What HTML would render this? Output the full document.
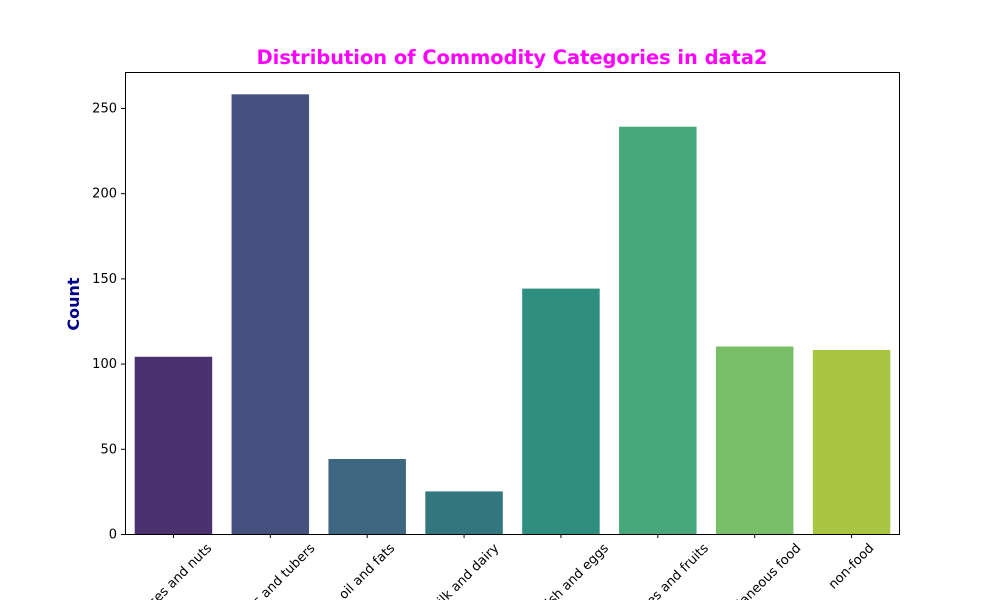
<!DOCTYPE html>
<html><head><meta charset="utf-8"><style>
html,body{margin:0;background:#fff;overflow:hidden;width:1000px;height:600px}
svg{font-family:"DejaVu Sans","Liberation Sans",sans-serif;display:block;overflow:hidden}
</style></head><body>
<svg id="chart" width="1000" height="600" viewBox="0 0 1000 600">
<text x="512" y="64" text-anchor="middle" font-size="19.4" font-weight="bold" fill="#ff00ff">Distribution of Commodity Categories in data2</text>
<text transform="translate(79,304) rotate(-90)" text-anchor="middle" font-size="16" font-weight="bold" fill="#00008b">Count</text>
<g id="bars"></g><g id="yticks"></g><g id="xticks"></g>
<rect x="125.5" y="72.5" width="774" height="462" fill="none" stroke="#000" stroke-width="1"/>
</svg>
<script>
const categories=["pulses and nuts","cereals and tubers","oil and fats","milk and dairy","meat, fish and eggs","vegetables and fruits","miscellaneous food","non-food"];
const counts=[104,258,44,25,144,239,110,108];
const colors=["#4a3271","#46517f","#3d6780","#33777e","#2e8f7e","#46a87a","#77be67","#a9c541"];
const yTickValues=[0,50,100,150,200,250];
const NS="http://www.w3.org/2000/svg";
const X0=125,X1=900,Y0=534,YMAX=271.1,PH=462;
const y=v=>Y0-v/YMAX*PH;
const slot=(X1-X0)/categories.length;
const xc=i=>X0+slot*(i+0.5);
const bars=document.getElementById('bars'),yt=document.getElementById('yticks'),xt=document.getElementById('xticks');
function mk(t,a){const e=document.createElementNS(NS,t);for(const k in a)e.setAttribute(k,a[k]);return e;}
counts.forEach((v,i)=>{
 const w=slot*0.8;
 const r=mk('rect',{x:xc(i)-w/2,y:y(v),width:w,height:Y0-y(v),fill:colors[i]});
 
 
 bars.appendChild(r);
});
yTickValues.forEach(v=>{
 const g=mk('g',{});
 
 
 g.appendChild(mk('line',{x1:121,x2:125,y1:y(v)+0.5,y2:y(v)+0.5,stroke:'#000'}));
 const t=mk('text',{x:117,y:y(v)+4.5,'text-anchor':'end','font-size':13});
 t.textContent=v;g.appendChild(t);yt.appendChild(g);
});
categories.forEach((c,i)=>{
 const g=mk('g',{});
 
 
 g.appendChild(mk('line',{x1:xc(i),x2:xc(i),y1:534,y2:538,stroke:'#000'}));
 const t=mk('text',{'text-anchor':'middle','dominant-baseline':'central','font-size':13});
 t.textContent=c;g.appendChild(t);xt.appendChild(g);
 const L=t.getComputedTextLength();
 const h=(L+15)*0.7071;
 t.setAttribute('transform','translate('+xc(i)+','+(541+h/2)+') rotate(-45)');
});
</script>
</body></html>
